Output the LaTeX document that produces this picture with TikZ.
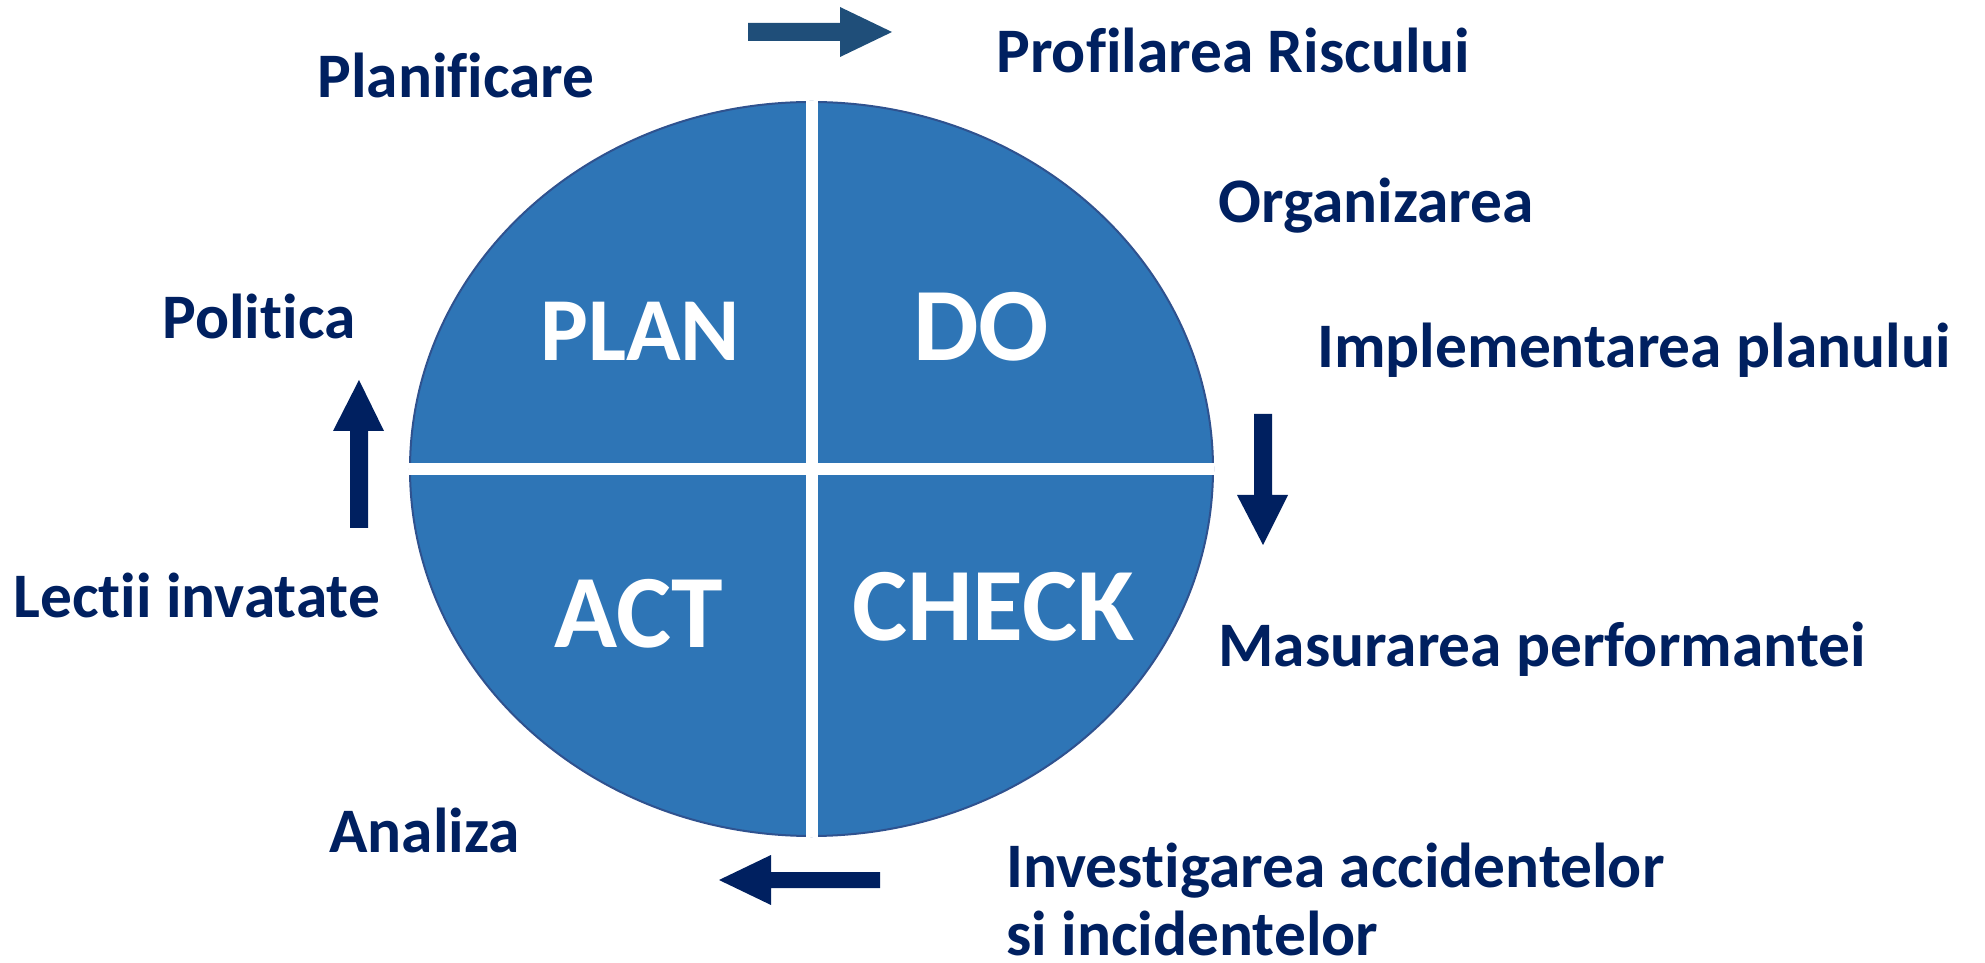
\documentclass[tikz,border=0pt]{standalone}
\usepackage{fontspec}
\setmainfont{Carlito}[Ligatures={NoCommon}]
\usetikzlibrary{shapes.geometric}

\definecolor{cyclefill}{HTML}{2E75B6}
\definecolor{cycleedge}{HTML}{2F528F}
\definecolor{navytext}{HTML}{002060}
\definecolor{steelarrow}{HTML}{1F4E79}

\tikzset{
  step label/.style={anchor=base west, inner sep=0, text=navytext,
    font=\fontsize{36.1}{40}\selectfont\bfseries},
  quarter/.style={anchor=base, inner sep=0, text=white,
    font=\fontsize{59.2}{66}\selectfont\bfseries},
  divider/.style={white, line width=2.4mm}
}

\begin{document}
\begin{tikzpicture}[x=0.2mm, y=-0.2mm]

\useasboundingbox (0,0) rectangle (1985,963);

% the PDCA cycle
\node[ellipse, draw=cycleedge, line width=0.4mm, fill=cyclefill, inner sep=0,
      minimum width=160.6mm, minimum height=146.8mm] (cyc) at (811.5,469) {};
\draw[divider] (cyc.north) -- (cyc.south);
\draw[divider] (cyc.west) -- (cyc.east);

\node[quarter, font=\fontsize{51.2}{58}\selectfont\bfseries] (plan) at (640,361) {PLAN};
\node[quarter] (do) at (981,361) {DO};
\node[quarter] (act) at (639,648) {ACT};
\node[quarter] (check) at (993,641) {CHECK};

% block arrows round the cycle
\fill[steelarrow] (748,23) -- (840,23) -- (840,7) -- (892,32)
	-- (840,57) -- (840,41) -- (748,41) -- cycle;
\fill[navytext] (1254,414) -- (1272,414) -- (1272,495) -- (1288,495)
	-- (1263,545) -- (1237,495) -- (1254,495) -- cycle;
\fill[navytext] (880,872) -- (880,888) -- (771,888) -- (771,905)
	-- (719,880) -- (771,855) -- (771,872) -- cycle;
\fill[navytext] (350,528) -- (350,431) -- (333,431) -- (359,380)
	-- (384,431) -- (368,431) -- (368,528) -- cycle;

% labels
\node[step label] (risc) at (996,73) {Profilarea Riscului};
\node[step label] (planif) at (317,98) {Planificare};
\node[step label] (org) at (1218,223) {Organizarea};
\node[step label] (pol) at (162,339) {Politica};
\node[step label] (impl) at (1317,368) {Implementarea planului};
\node[step label] (lectii) at (13,618) {Lectii invatate};
\node[step label] (masur) at (1218,666) {Masurarea performantei};
\node[step label] (anal) at (329,852) {Analiza};
\node[step label] (invest) at (1006,887) {Investigarea accidentelor};
\node[step label] (incid) at (1006,955) {si incidentelor};

\end{tikzpicture}
\end{document}
